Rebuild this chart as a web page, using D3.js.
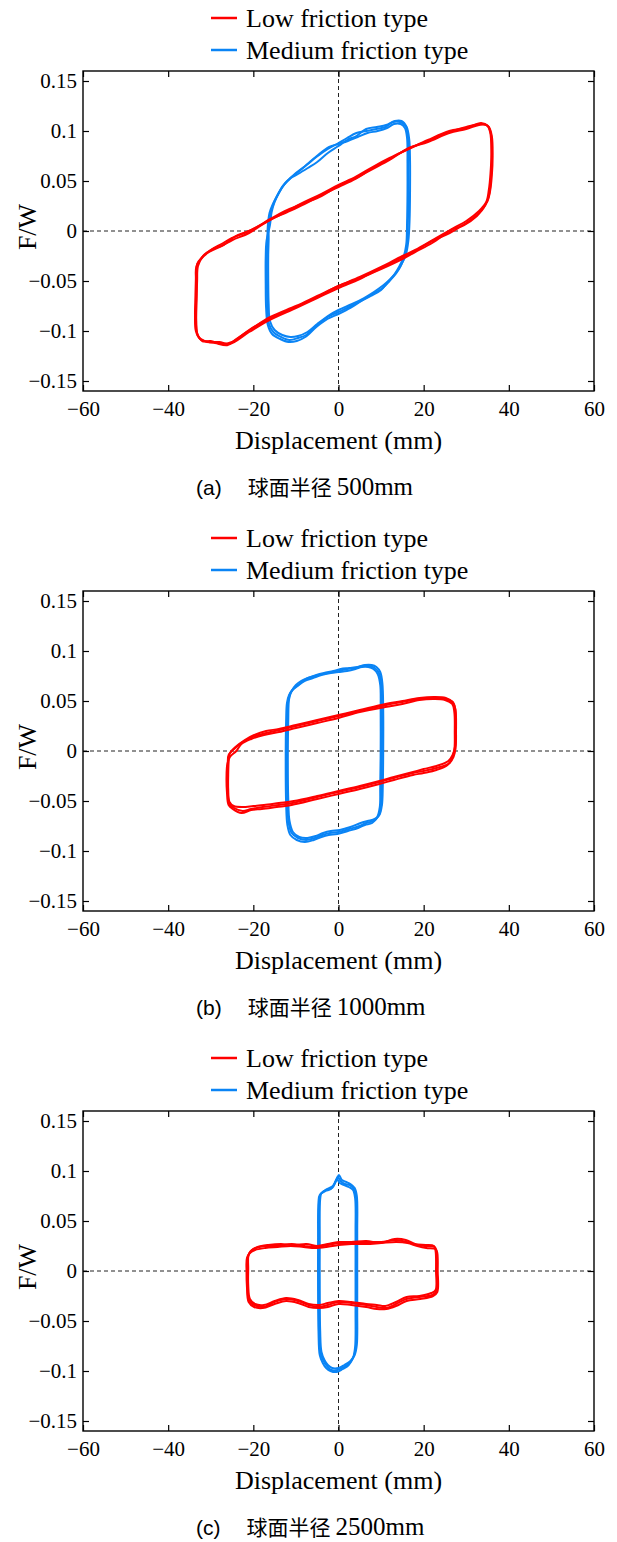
<!DOCTYPE html>
<html>
<head>
<meta charset="utf-8">
<script src="https://cdn.jsdelivr.net/npm/d3@7"></script>
<style>
  html, body { margin: 0; padding: 0; background: #fff; }
  svg { display: block; }
  .serif { font-family: "Liberation Serif", "Times New Roman", Times, serif; }
  .sans { font-family: "Liberation Sans", Arial, sans-serif; }
  .cjk { font-family: "Noto Sans CJK SC", sans-serif; }
</style>
</head>
<body>
<svg id="chart" width="617" height="1542"></svg>
<script>
// Axis ticks and labels
const xTicks = [-60, -40, -20, 0, 20, 40, 60];
const xTickLabels = ["\u221260", "\u221240", "\u221220", "0", "20", "40", "60"];
const yTicks = [-0.15, -0.1, -0.05, 0, 0.05, 0.1, 0.15];
const yTickLabels = ["\u22120.15", "\u22120.1", "\u22120.05", "0", "0.05", "0.1", "0.15"];
const seriesNames = ["Low friction type", "Medium friction type"];
const panelTags = ["(a)", "(b)", "(c)"];
const panelRadius = ["500mm", "1000mm", "2500mm"];
const radiusText = "\u7403\u9762\u534a\u5f84";
const xTitle = "Displacement (mm)";
const yTitle = "F/W";

// Hysteresis cycles: [displacement (mm), F/W]
// Spherical radius 500 mm
const lowA1 = [[-33.4,-0.036],[-32.3,-0.028],[-30.4,-0.021],[-27.5,-0.015],[-24.9,-0.009],[-21,-0.002],[-16.2,0.011],[-12,0.019],[-8,0.027],[-4,0.036],[0,0.044],[4,0.052],[8,0.063],[12,0.072],[16.7,0.083],[21,0.090],[26.1,0.099],[30,0.104],[33.9,0.107],[35.3,0.104],[36,0.095],[36.2,0.075],[36,0.055],[35.6,0.040],[35,0.030],[33,0.018],[30,0.008],[26.1,-0.002],[22,-0.010],[18,-0.020],[15.1,-0.026],[10,-0.037],[5,-0.048],[0,-0.057],[-5,-0.067],[-10,-0.077],[-16.2,-0.089],[-21,-0.101],[-25.6,-0.113],[-28,-0.111],[-30.5,-0.111],[-32.5,-0.108],[-33.5,-0.100],[-33.7,-0.085],[-33.6,-0.065],[-33.5,-0.048]];
const lowA2 = [[-33.2,-0.033],[-32,-0.026],[-30,-0.019],[-27.5,-0.013],[-25,-0.007],[-21,0.000],[-16.5,0.010],[-12,0.020],[-8,0.029],[-4,0.037],[0,0.046],[4,0.054],[8,0.064],[12,0.073],[16.5,0.082],[21,0.091],[26,0.100],[30,0.103],[33.5,0.108],[35.1,0.105],[35.8,0.097],[36.0,0.075],[35.8,0.053],[35.4,0.037],[34.5,0.026],[32.5,0.015],[29.5,0.006],[26.5,0.001],[22,-0.012],[18,-0.021],[15,-0.028],[10,-0.038],[5,-0.047],[0,-0.055],[-5,-0.066],[-10,-0.076],[-16,-0.087],[-21,-0.099],[-25,-0.111],[-27.5,-0.113],[-30,-0.110],[-32,-0.110],[-33.2,-0.102],[-33.5,-0.085],[-33.4,-0.063],[-33.3,-0.045]];
const lowA3 = [[-33,-0.035],[-31.8,-0.025],[-29.5,-0.018],[-27,-0.014],[-24.5,-0.006],[-20.5,0.001],[-16,0.012],[-12,0.021],[-8,0.028],[-4,0.035],[0,0.045],[4,0.053],[8,0.062],[12,0.071],[16.5,0.083],[21,0.089],[26,0.098],[30,0.102],[33,0.106],[34.8,0.106],[35.6,0.099],[35.9,0.078],[35.7,0.058],[35.3,0.041],[34.7,0.029],[33,0.020],[30,0.010],[27,0.003],[22.5,-0.008],[18,-0.019],[15,-0.025],[10,-0.036],[5,-0.046],[0,-0.055],[-5,-0.065],[-10,-0.075],[-16,-0.086],[-20.5,-0.098],[-24,-0.108],[-26,-0.114],[-29,-0.112],[-31.5,-0.110],[-33,-0.105],[-33.4,-0.090],[-33.3,-0.068],[-33.2,-0.050]];
const medA1 = [[-16.6,0.005],[-16.2,0.018],[-15.5,0.026],[-14.2,0.037],[-13.1,0.045],[-11.5,0.052],[-10,0.058],[-7.5,0.066],[-5.2,0.074],[-2.5,0.082],[0,0.088],[2,0.093],[4.2,0.098],[6.5,0.100],[8.9,0.102],[11,0.104],[12.8,0.109],[14.5,0.109],[15.8,0.105],[16.3,0.095],[16.4,0.070],[16.4,0.040],[16.3,0.010],[16.1,-0.012],[15.5,-0.026],[14.6,-0.035],[13.6,-0.042],[12,-0.050],[10.4,-0.057],[8,-0.063],[5.7,-0.069],[3,-0.075],[0,-0.081],[-2.5,-0.086],[-5,-0.094],[-7.6,-0.104],[-9.5,-0.107],[-11.5,-0.109],[-13.5,-0.106],[-15.3,-0.101],[-16.4,-0.092],[-16.7,-0.075],[-16.8,-0.050],[-16.8,-0.025],[-16.7,-0.008]];
const medA2 = [[-16.4,0.004],[-16,0.017],[-15.2,0.028],[-14,0.038],[-12.8,0.046],[-11.2,0.053],[-9.5,0.057],[-7.2,0.063],[-5,0.069],[-2.5,0.078],[0,0.085],[2,0.091],[4.2,0.095],[6.5,0.102],[9,0.104],[11.2,0.106],[13.2,0.110],[14.8,0.110],[16.0,0.104],[16.6,0.092],[16.8,0.070],[16.8,0.040],[16.7,0.012],[16.4,-0.010],[15.8,-0.024],[14.8,-0.033],[13.8,-0.040],[12.2,-0.048],[10.6,-0.054],[8.3,-0.061],[6,-0.067],[3.2,-0.073],[0,-0.079],[-2.5,-0.085],[-5,-0.093],[-7.3,-0.101],[-9.5,-0.105],[-11.3,-0.106],[-13.2,-0.104],[-15,-0.099],[-16.1,-0.090],[-16.4,-0.073],[-16.5,-0.048],[-16.5,-0.024],[-16.4,-0.008]];
const medA3 = [[-16.1,0.006],[-15.7,0.019],[-15,0.029],[-13.9,0.039],[-12.5,0.048],[-11,0.054],[-9.2,0.060],[-7,0.068],[-4.8,0.076],[-2.2,0.084],[0,0.087],[2.2,0.090],[4.5,0.094],[6.8,0.098],[9.2,0.100],[11.4,0.103],[13,0.107],[14.6,0.107],[15.6,0.103],[16.1,0.093],[16.2,0.068],[16.2,0.038],[16.1,0.008],[15.9,-0.014],[15.2,-0.027],[14.2,-0.036],[13.2,-0.043],[11.6,-0.051],[10,-0.059],[7.6,-0.065],[5.4,-0.070],[2.8,-0.077],[0,-0.083],[-2.6,-0.088],[-5.2,-0.096],[-7.8,-0.106],[-9.8,-0.110],[-11.7,-0.111],[-13.7,-0.108],[-15.6,-0.103],[-16.6,-0.094],[-17,-0.077],[-17.1,-0.052],[-17.1,-0.027],[-16.9,-0.010]];

// Spherical radius 1000 mm
const lowB1 = [[-25.8,-0.004],[-24.5,0.002],[-22.5,0.009],[-20.2,0.014],[-17,0.018],[-13.9,0.021],[-10,0.025],[-5,0.030],[0,0.035],[5,0.040],[11.2,0.046],[15,0.049],[19.1,0.052],[22.5,0.053],[25.3,0.052],[27.0,0.048],[27.5,0.040],[27.6,0.020],[27.5,0.003],[27,-0.006],[26.1,-0.012],[23,-0.017],[20,-0.020],[17.5,-0.022],[13,-0.027],[9.6,-0.031],[5,-0.036],[0,-0.041],[-5,-0.046],[-10.8,-0.052],[-14,-0.054],[-17.8,-0.056],[-20.5,-0.058],[-22.5,-0.060],[-24.5,-0.057],[-25.6,-0.053],[-26.0,-0.040],[-26.1,-0.025],[-26.0,-0.012]];
const lowB2 = [[-25.6,-0.003],[-24.2,0.004],[-22,0.011],[-19.8,0.016],[-17,0.020],[-14,0.022],[-10,0.026],[-5,0.031],[0,0.036],[5,0.041],[11,0.047],[15,0.050],[19,0.053],[22.5,0.054],[25.2,0.053],[26.8,0.049],[27.4,0.042],[27.5,0.022],[27.4,0.005],[26.8,-0.004],[25.8,-0.010],[23,-0.015],[20,-0.018],[17.5,-0.021],[13,-0.026],[9.6,-0.030],[5,-0.035],[0,-0.040],[-5,-0.045],[-10.5,-0.050],[-14,-0.052],[-17.5,-0.054],[-20,-0.055],[-22.5,-0.056],[-24.6,-0.055],[-25.6,-0.051],[-25.9,-0.038],[-25.9,-0.024],[-25.8,-0.011]];
const lowB3 = [[-25.5,-0.006],[-24,0.000],[-22.8,0.007],[-20.5,0.012],[-17.5,0.016],[-14,0.019],[-10,0.023],[-5,0.028],[0,0.033],[5,0.039],[11,0.044],[15,0.047],[19,0.051],[22.5,0.052],[25,0.051],[26.7,0.047],[27.2,0.039],[27.3,0.019],[27.2,0.001],[26.6,-0.008],[25.6,-0.014],[23,-0.019],[20,-0.022],[17.5,-0.024],[13,-0.029],[9.6,-0.033],[5,-0.038],[0,-0.043],[-5,-0.048],[-11,-0.054],[-14.5,-0.056],[-18,-0.058],[-20.5,-0.059],[-22.8,-0.062],[-24.8,-0.058],[-25.8,-0.054],[-26.2,-0.041],[-26.3,-0.026],[-26.1,-0.013]];
const medB1 = [[-11.8,0.050],[-11.3,0.058],[-10.4,0.063],[-9.2,0.067],[-7.6,0.072],[-5.5,0.075],[-3.7,0.077],[-1.5,0.079],[0,0.080],[2,0.082],[4,0.083],[5.7,0.085],[7.3,0.085],[8.5,0.083],[9.5,0.078],[10.0,0.068],[10.2,0.040],[10.2,0.000],[10.1,-0.035],[10.0,-0.055],[9.4,-0.065],[8.2,-0.070],[6.5,-0.072],[4.9,-0.075],[2.5,-0.078],[0,-0.081],[-2,-0.082],[-3.8,-0.084],[-5.5,-0.087],[-7.6,-0.089],[-9.5,-0.087],[-11,-0.082],[-11.7,-0.072],[-12.0,-0.050],[-12.1,-0.010],[-12.0,0.030]];
const medB2 = [[-11.6,0.052],[-11,0.060],[-10,0.066],[-8.8,0.070],[-7.2,0.073],[-5.2,0.076],[-3.4,0.078],[-1.2,0.080],[0.5,0.082],[2.5,0.083],[4.5,0.084],[6.2,0.086],[7.8,0.086],[8.9,0.084],[9.8,0.079],[10.3,0.068],[10.5,0.040],[10.5,0.000],[10.4,-0.035],[10.2,-0.054],[9.6,-0.064],[8.5,-0.068],[6.8,-0.070],[5.2,-0.072],[2.8,-0.076],[0.3,-0.079],[-1.8,-0.080],[-3.6,-0.082],[-5.3,-0.085],[-7.3,-0.087],[-9.2,-0.086],[-10.7,-0.081],[-11.5,-0.070],[-11.8,-0.048],[-11.9,-0.010],[-11.8,0.030]];
const medB3 = [[-12.1,0.048],[-11.6,0.056],[-10.8,0.061],[-9.6,0.065],[-8,0.070],[-6,0.073],[-4,0.076],[-1.8,0.078],[0,0.079],[2,0.080],[4,0.082],[5.5,0.084],[7,0.084],[8.2,0.082],[9.2,0.077],[9.8,0.066],[9.9,0.040],[9.9,0.000],[9.8,-0.035],[9.7,-0.056],[9.1,-0.066],[7.9,-0.072],[6.2,-0.074],[4.6,-0.077],[2.2,-0.080],[-0.3,-0.083],[-2.3,-0.084],[-4,-0.086],[-5.8,-0.089],[-7.9,-0.091],[-9.8,-0.089],[-11.3,-0.084],[-12,-0.074],[-12.3,-0.052],[-12.4,-0.010],[-12.3,0.030]];

// Spherical radius 2500 mm
const lowC1 = [[-21.3,0.014],[-20.6,0.020],[-19.4,0.023],[-17,0.025],[-14,0.025],[-11,0.027],[-8,0.025],[-5.2,0.024],[-2.5,0.026],[0,0.028],[3,0.028],[6.5,0.029],[10,0.029],[13.6,0.031],[16,0.029],[18.3,0.026],[20.5,0.025],[22.6,0.024],[23.0,0.020],[23.1,0.000],[23.0,-0.020],[22,-0.024],[19,-0.026],[15.9,-0.028],[13.5,-0.033],[11.2,-0.037],[9,-0.036],[6.5,-0.034],[3,-0.032],[0,-0.031],[-2.5,-0.034],[-4.5,-0.036],[-7,-0.034],[-9.5,-0.030],[-12.3,-0.028],[-15,-0.031],[-17.8,-0.036],[-19.8,-0.034],[-21,-0.029],[-21.4,-0.015],[-21.4,0.000]];
const lowC2 = [[-21.1,0.016],[-20.3,0.021],[-19,0.024],[-16.5,0.026],[-13.5,0.027],[-10.5,0.026],[-7.5,0.027],[-5,0.025],[-2.5,0.027],[0,0.029],[3,0.029],[6.5,0.030],[10,0.028],[13.2,0.032],[15.8,0.031],[18,0.027],[20.5,0.026],[22.4,0.025],[22.8,0.020],[22.9,0.000],[22.8,-0.019],[21.8,-0.022],[19,-0.025],[16,-0.026],[13.5,-0.031],[11,-0.035],[9,-0.034],[6.5,-0.033],[3,-0.031],[0,-0.030],[-2.5,-0.032],[-4.5,-0.034],[-7,-0.033],[-9.5,-0.029],[-12.3,-0.027],[-15,-0.030],[-17.5,-0.034],[-19.6,-0.033],[-20.8,-0.028],[-21.2,-0.014],[-21.2,0.002]];
const lowC3 = [[-21.5,0.013],[-20.8,0.018],[-19.6,0.021],[-17.2,0.023],[-14.3,0.024],[-11.2,0.025],[-8.2,0.024],[-5.5,0.023],[-2.8,0.024],[0,0.026],[3,0.027],[6.5,0.027],[10,0.028],[13.6,0.029],[16.2,0.028],[18.5,0.025],[20.6,0.023],[22.8,0.022],[23.2,0.018],[23.3,0.000],[23.2,-0.021],[22.2,-0.025],[19.2,-0.028],[16,-0.030],[13.5,-0.035],[11.2,-0.038],[9,-0.038],[6.5,-0.036],[3,-0.034],[0,-0.033],[-2.5,-0.036],[-4.5,-0.037],[-7,-0.036],[-9.5,-0.032],[-12.3,-0.030],[-15,-0.033],[-17.8,-0.037],[-19.8,-0.036],[-21.1,-0.031],[-21.5,-0.016],[-21.6,0.000]];
const medC1 = [[-4.5,0.070],[-4.2,0.077],[-2.9,0.081],[-1.5,0.083],[-0.6,0.090],[-0.2,0.094],[0.5,0.090],[1.5,0.087],[2.6,0.086],[3.6,0.082],[4.1,0.074],[4.2,0.040],[4.2,0.000],[4.2,-0.040],[4.1,-0.075],[3.6,-0.085],[2.6,-0.092],[1.2,-0.096],[-0.2,-0.099],[-1.7,-0.099],[-2.7,-0.095],[-3.5,-0.090],[-4.2,-0.082],[-4.5,-0.060],[-4.6,-0.020],[-4.6,0.030]];
const medC2 = [[-4.3,0.072],[-4.0,0.078],[-2.7,0.082],[-1.3,0.085],[-0.4,0.092],[0.1,0.096],[0.8,0.091],[1.8,0.089],[2.8,0.087],[3.8,0.083],[4.3,0.075],[4.4,0.040],[4.4,0.000],[4.4,-0.040],[4.3,-0.074],[3.8,-0.084],[2.8,-0.090],[1.4,-0.094],[0,-0.097],[-1.5,-0.097],[-2.5,-0.094],[-3.3,-0.089],[-4,-0.081],[-4.3,-0.060],[-4.4,-0.020],[-4.4,0.030]];
const medC3 = [[-4.7,0.069],[-4.4,0.076],[-3.1,0.080],[-1.8,0.082],[-0.9,0.088],[-0.4,0.092],[0.3,0.088],[1.3,0.086],[2.4,0.084],[3.4,0.081],[3.9,0.073],[4.0,0.040],[4.0,0.000],[4.0,-0.040],[3.9,-0.076],[3.4,-0.087],[2.4,-0.094],[1,-0.098],[-0.4,-0.101],[-1.9,-0.100],[-2.9,-0.097],[-3.7,-0.092],[-4.4,-0.084],[-4.7,-0.060],[-4.8,-0.020],[-4.8,0.030]];

const panels = [
  { low: [lowA1, lowA2, lowA3], med: [medA1, medA2, medA3] },
  { low: [lowB1, lowB2, lowB3], med: [medB1, medB2, medB3] },
  { low: [lowC1, lowC2, lowC3], med: [medC1, medC2, medC3] }
];

const colors = { low: "#ff0000", med: "#0a84f5" };

const svg = d3.select("#chart");
const panelStep = 520;
const plotLeft = 83, plotRight = 594, plotTop = 71, plotBottom = 391;

panels.forEach((p, i) => {
  const g = svg.append("g").attr("transform", `translate(0,${i * panelStep})`);

  const x = d3.scaleLinear().domain([-60, 60]).range([plotLeft, plotRight]);
  const y = d3.scaleLinear().domain([-0.16, 0.16]).range([plotBottom, plotTop]);

  // Legend
  const legend = g.append("g");
  seriesNames.forEach((name, k) => {
    const ly = 18 + k * 32;
    legend.append("line")
      .attr("x1", 211).attr("x2", 237).attr("y1", ly).attr("y2", ly)
      .attr("stroke", k === 0 ? colors.low : colors.med).attr("stroke-width", 2.5);
    legend.append("text")
      .attr("class", "serif")
      .attr("x", 246).attr("y", ly + 9)
      .style("font-size", "26px").attr("fill", "#000")
      .text(name);
  });

  // Reference lines through the origin
  g.append("line")
    .attr("x1", x(-60)).attr("x2", x(60)).attr("y1", y(0)).attr("y2", y(0))
    .attr("stroke", "#222").attr("stroke-width", 1).attr("stroke-dasharray", "4,3");
  g.append("line")
    .attr("x1", x(0)).attr("x2", x(0)).attr("y1", y(-0.16)).attr("y2", y(0.16))
    .attr("stroke", "#222").attr("stroke-width", 1).attr("stroke-dasharray", "4,3");

  // Loops
  const line = d3.line()
    .x(d => x(d[0])).y(d => y(d[1]))
    .curve(d3.curveCatmullRomClosed.alpha(0.5));
  const clipId = `clip${i}`;
  g.append("clipPath").attr("id", clipId)
    .append("rect").attr("x", plotLeft).attr("y", plotTop)
    .attr("width", plotRight - plotLeft).attr("height", plotBottom - plotTop);
  const loops = g.append("g").attr("clip-path", `url(#${clipId})`);
  p.med.forEach(c => loops.append("path").attr("d", line(c))
    .attr("fill", "none").attr("stroke", colors.med).attr("stroke-width", 2)
    .attr("stroke-linejoin", "round"));
  p.low.forEach(c => loops.append("path").attr("d", line(c))
    .attr("fill", "none").attr("stroke", colors.low).attr("stroke-width", 2)
    .attr("stroke-linejoin", "round"));

  // Axes with inward ticks on all four sides
  const tl = 6;
  const axB = d3.axisBottom(x).tickValues(xTicks).tickSize(-tl).tickPadding(10)
    .tickFormat((d, k) => xTickLabels[k]);
  const axT = d3.axisTop(x).tickValues(xTicks).tickSize(-tl).tickFormat("");
  const axL = d3.axisLeft(y).tickValues(yTicks).tickSize(-tl).tickPadding(6)
    .tickFormat((d, k) => yTickLabels[k]);
  const axR = d3.axisRight(y).tickValues(yTicks).tickSize(-tl).tickFormat("");

  const styleAxis = sel => {
    sel.attr("font-family", null).attr("font-size", null);
    sel.select(".domain").remove();
    sel.selectAll(".tick line").attr("stroke", "#000").attr("stroke-width", 1.2);
    sel.selectAll("text").attr("class", "serif").style("font-size", "21px").attr("fill", "#000");
  };
  g.append("g").attr("transform", `translate(0,${plotBottom})`).call(axB).call(styleAxis);
  g.append("g").attr("transform", `translate(0,${plotTop})`).call(axT).call(styleAxis);
  g.append("g").attr("transform", `translate(${plotLeft},0)`).call(axL).call(styleAxis);
  g.append("g").attr("transform", `translate(${plotRight},0)`).call(axR).call(styleAxis);

  // Frame
  g.append("rect")
    .attr("x", plotLeft).attr("y", plotTop)
    .attr("width", plotRight - plotLeft).attr("height", plotBottom - plotTop)
    .attr("fill", "none").attr("stroke", "#000").attr("stroke-width", 1.4);

  // Axis titles
  g.append("text")
    .attr("class", "serif")
    .attr("x", (plotLeft + plotRight) / 2).attr("y", 449)
    .attr("text-anchor", "middle")
    .style("font-size", "26px").attr("fill", "#000")
    .text(xTitle);
  g.append("text")
    .attr("class", "serif")
    .attr("transform", `translate(36,227) rotate(-90)`)
    .attr("text-anchor", "middle")
    .style("font-size", "26px").attr("fill", "#000")
    .text(yTitle);

  // Caption
  const cap = g.append("text").attr("x", 196).attr("y", 495).attr("fill", "#000");
  cap.append("tspan").attr("class", "sans").style("font-size", "21px").text(panelTags[i]);
  cap.append("tspan").attr("class", "cjk").attr("dx", 26).style("font-size", "21px").text(radiusText);
  cap.append("tspan").attr("class", "serif").attr("dx", 5).style("font-size", "25px").text(panelRadius[i]);
});
</script>
</body>
</html>
